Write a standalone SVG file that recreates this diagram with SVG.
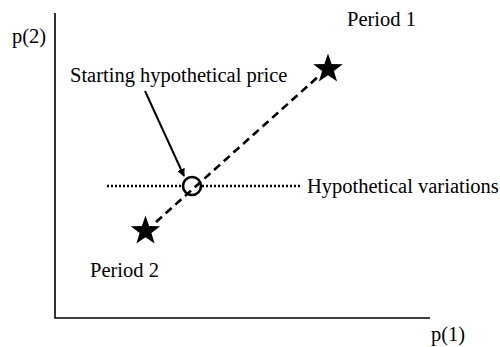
<svg xmlns="http://www.w3.org/2000/svg" width="500" height="347" viewBox="0 0 500 347">
<style>
text{font-family:"Liberation Serif","Times New Roman",serif;font-size:20.5px;fill:#000}
.axis{stroke:#000;stroke-width:1.6;fill:none}
.dash{stroke:#000;stroke-width:2.6;stroke-dasharray:8 5;fill:none}
.dot{stroke:#000;stroke-width:2.6;stroke-dasharray:2 2;fill:none}
.star{fill:#000}
</style>
<defs>
<marker id="ah" viewBox="0 0 10 10" refX="9" refY="5" markerWidth="4" markerHeight="4" orient="auto">
<path d="M0,0 L10,5 L0,10 z" fill="#000"/>
</marker>
<path id="starShape" d="M0,-15.5 L3.65,-5.01 L14.74,-4.79 L5.9,1.91 L9.11,12.54 L0,6.2 L-9.11,12.54 L-5.9,1.91 L-14.74,-4.79 L-3.65,-5.01 Z"/>
</defs>
<rect width="500" height="347" fill="#fff"/>
<g id="axes">
<path class="axis" d="M55,13 V318 H430"/>
<text x="12" y="43">p(2)</text>
<text x="431" y="341">p(1)</text>
</g>
<g id="connectors">
<path class="dash" d="M156,222 L320,75"/>
<path class="dot" d="M107,186 H182"/>
<path class="dot" d="M202,186 H300"/>
<path d="M145,91 L184,176" stroke="#000" stroke-width="2" fill="none" marker-end="url(#ah)"/>
</g>
<g id="period1">
<use href="#starShape" class="star" transform="translate(328,69)"/>
<text x="347" y="26">Period 1</text>
</g>
<g id="period2">
<use href="#starShape" class="star" transform="translate(145.5,231)"/>
<text x="90" y="277">Period 2</text>
</g>
<g id="start">
<circle cx="192" cy="186" r="9" fill="none" stroke="#000" stroke-width="2.6"/>
<text x="70" y="82">Starting hypothetical price</text>
</g>
<g id="variations">
<text x="307" y="193">Hypothetical variations</text>
</g>
</svg>
